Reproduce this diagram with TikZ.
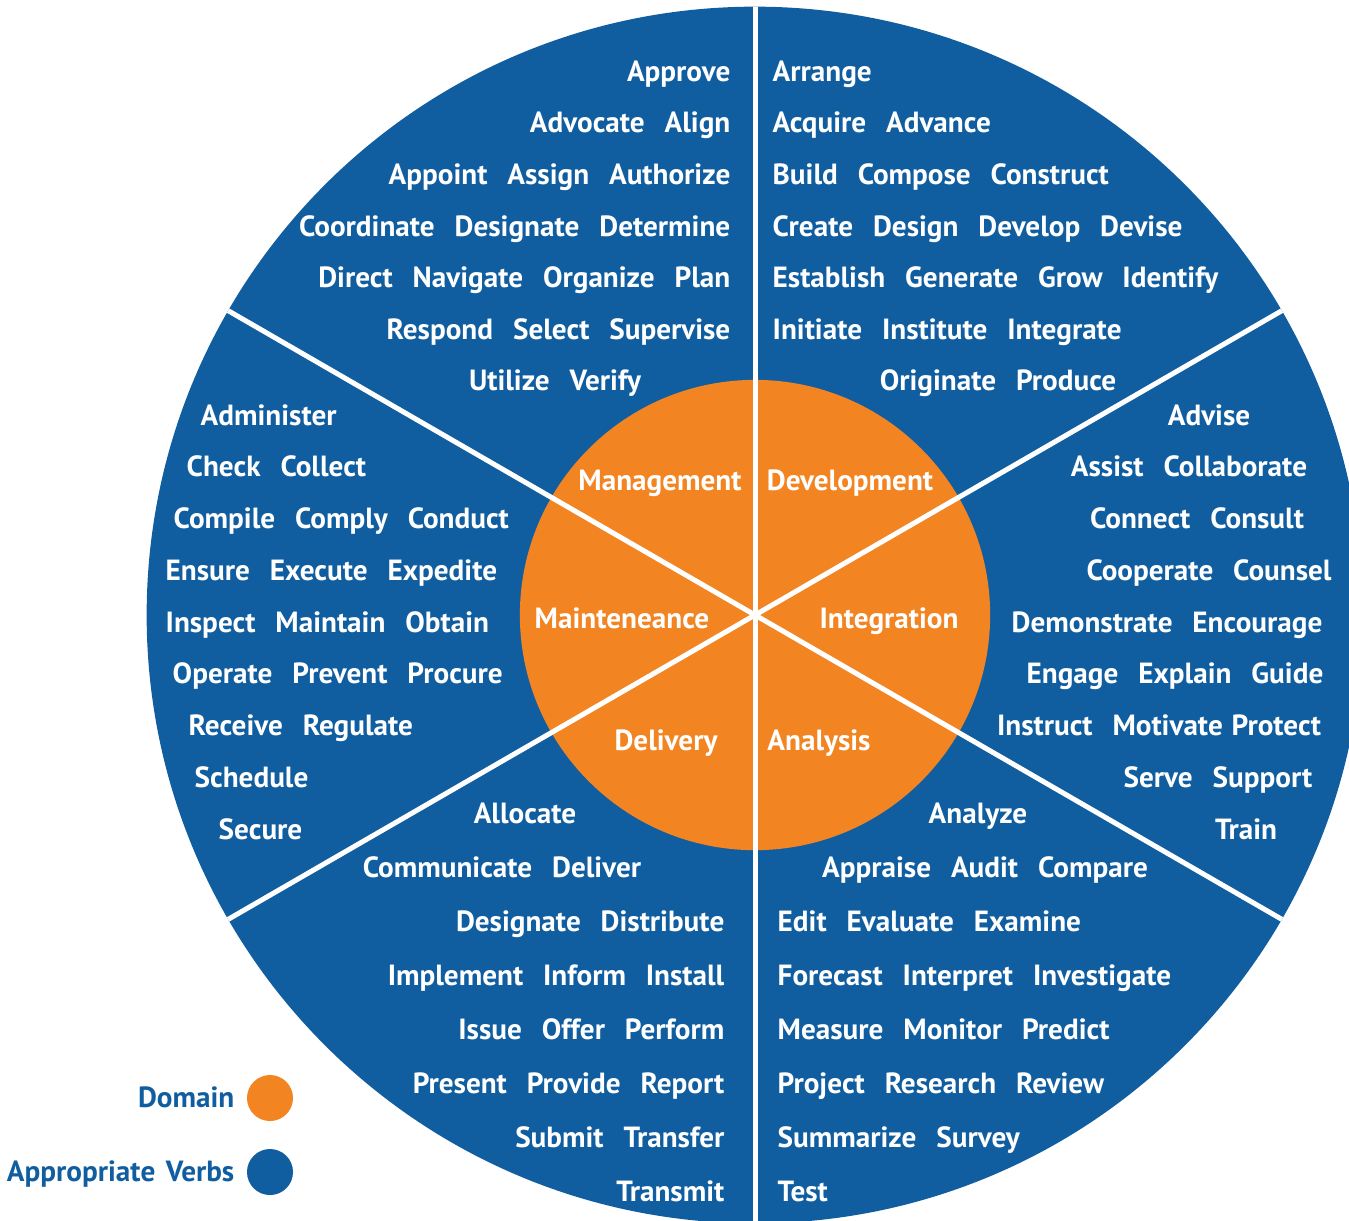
\documentclass[tikz,border=0pt]{standalone}
\usepackage{fontspec}
\setmainfont{PT Sans}[WordSpace=2.7]
\usepackage{tikz}

\definecolor{verbblue}{RGB}{16,94,160}
\definecolor{domorange}{RGB}{243,132,34}

\begin{document}
\begin{tikzpicture}[x=0.01cm, y=-0.01cm,
        verb/.style = {text = white, inner sep = 0, font = \fontsize{8.3}{10}\selectfont\bfseries},
        legend/.style = {text = verbblue, inner sep = 0, anchor = base east, font = \fontsize{8.3}{10}\selectfont\bfseries}]
        \useasboundingbox (0, 0) rectangle (1349, 1220);
        \clip (0, 0) rectangle (1349, 1220);
        \fill [verbblue] (755, 615) circle (6.08cm);
        \fill [domorange] (755, 615) circle (2.35cm);
        \begin{scope}
            \clip (755, 615) circle (6.08cm);
            \draw [white, line width = 0.05cm] (755, 0) -- (755, 1230);
            \draw [white, line width = 0.05cm] (1283, 310) -- (227, 920);
            \draw [white, line width = 0.05cm] (227, 310) -- (1283, 920);
        \end{scope}
        \node (management) [verb, anchor = base] at (660, 490) {Management};
        \node (development) [verb, anchor = base] at (850, 490) {Development};
        \node (maintenance) [verb, anchor = base] at (622, 628) {Mainteneance};
        \node (integration) [verb, anchor = base] at (889, 628) {Integration};
        \node (delivery) [verb, anchor = base] at (666, 750) {Delivery};
        \node (analysis) [verb, anchor = base] at (819, 750) {Analysis};
        \node (mg1) [verb, anchor = base east] at (731, 81) {Approve};
        \node (mg2) [verb, anchor = base east] at (731, 132) {Advocate Align};
        \node (mg3) [verb, anchor = base east] at (731, 184) {Appoint Assign Authorize};
        \node (mg4) [verb, anchor = base east] at (731, 236) {Coordinate Designate Determine};
        \node (mg5) [verb, anchor = base east] at (731, 287) {Direct Navigate Organize Plan};
        \node (mg6) [verb, anchor = base east] at (731, 339) {Respond Select Supervise};
        \node (mg7) [verb, anchor = base] at (555, 390) {Utilize Verify};
        \node (dv1) [verb, anchor = base west] at (772, 81) {Arrange};
        \node (dv2) [verb, anchor = base west] at (772, 132) {Acquire Advance};
        \node (dv3) [verb, anchor = base west] at (772, 184) {Build Compose Construct};
        \node (dv4) [verb, anchor = base west] at (772, 236) {Create Design Develop Devise};
        \node (dv5) [verb, anchor = base west] at (772, 287) {Establish Generate Grow Identify};
        \node (dv6) [verb, anchor = base west] at (772, 339) {Initiate Institute Integrate};
        \node (dv7) [verb, anchor = base] at (998, 390) {Originate Produce};
        \node (mt1) [verb, anchor = base west] at (200, 425) {Administer};
        \node (mt2) [verb, anchor = base west] at (186, 476) {Check Collect};
        \node (mt3) [verb, anchor = base west] at (173, 528) {Compile Comply Conduct};
        \node (mt4) [verb, anchor = base west] at (165, 580) {Ensure Execute Expedite};
        \node (mt5) [verb, anchor = base west] at (165, 632) {Inspect Maintain Obtain};
        \node (mt6) [verb, anchor = base west] at (172, 683) {Operate Prevent Procure};
        \node (mt7) [verb, anchor = base west] at (188, 735) {Receive Regulate};
        \node (mt8) [verb, anchor = base west] at (194, 787) {Schedule};
        \node (mt9) [verb, anchor = base west] at (218, 839) {Secure};
        \node (in1) [verb, anchor = base] at (1209, 425) {Advise};
        \node (in2) [verb, anchor = base] at (1189, 476) {Assist Collaborate};
        \node (in3) [verb, anchor = base] at (1197, 528) {Connect Consult};
        \node (in4) [verb, anchor = base] at (1209, 580) {Cooperate Counsel};
        \node (in5) [verb, anchor = base] at (1167, 632) {Demonstrate Encourage};
        \node (in6) [verb, anchor = base] at (1175, 683) {Engage Explain Guide};
        \node (in7) [verb, anchor = base] at (1159, 735) {Instruct Motivate\hspace{2.5pt}Protect};
        \node (in8) [verb, anchor = base] at (1218, 787) {Serve Support};
        \node (in9) [verb, anchor = base] at (1246, 839) {Train};
        \node (dl1) [verb, anchor = base] at (525, 823) {Allocate};
        \node (dl2) [verb, anchor = base] at (502, 877) {Communicate Deliver};
        \node (dl3) [verb, anchor = base east] at (725, 931) {Designate Distribute};
        \node (dl4) [verb, anchor = base east] at (725, 985) {Implement Inform Install};
        \node (dl5) [verb, anchor = base east] at (725, 1039) {Issue Offer Perform};
        \node (dl6) [verb, anchor = base east] at (725, 1093) {Present Provide Report};
        \node (dl7) [verb, anchor = base east] at (725, 1147) {Submit Transfer};
        \node (dl8) [verb, anchor = base east] at (725, 1201) {Transmit};
        \node (an1) [verb, anchor = base] at (978, 823) {Analyze};
        \node (an2) [verb, anchor = base] at (985, 877) {Appraise Audit Compare};
        \node (an3) [verb, anchor = base west] at (777, 931) {Edit Evaluate Examine};
        \node (an4) [verb, anchor = base west] at (777, 985) {Forecast Interpret Investigate};
        \node (an5) [verb, anchor = base west] at (777, 1039) {Measure Monitor Predict};
        \node (an6) [verb, anchor = base west] at (777, 1093) {Project Research Review};
        \node (an7) [verb, anchor = base west] at (777, 1147) {Summarize Survey};
        \node (an8) [verb, anchor = base west] at (777, 1201) {Test};
        \node (domain) [legend] at (235, 1107) {Domain};
        \node (verbs) [legend] at (235, 1181) {Appropriate\hspace{3pt}Verbs};
        \fill [domorange] (270, 1098) circle (0.23cm);
        \fill [verbblue] (270, 1172) circle (0.23cm);
    \end{tikzpicture}
\end{document}
